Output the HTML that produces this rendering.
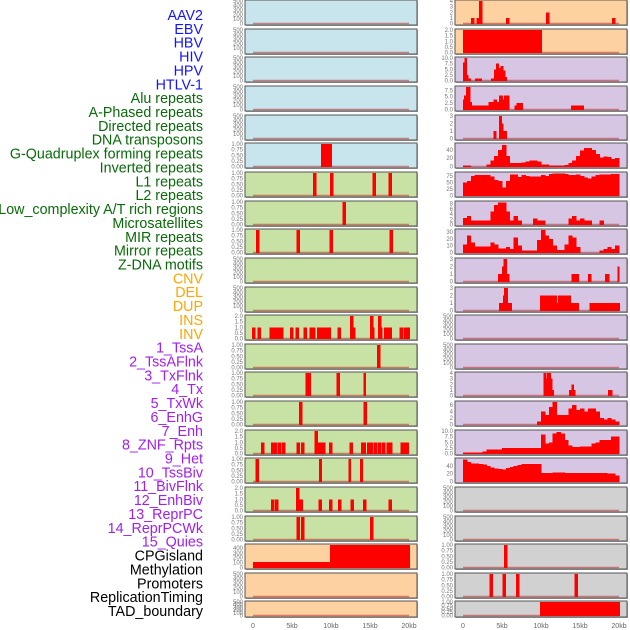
<!DOCTYPE html>
<html><head><meta charset="utf-8"><style>
body{margin:0;background:#fff;}
svg{display:block;font-family:"Liberation Sans",sans-serif;}
.lab{font-size:14.3px;}
.tk{font-size:6px;fill:#777;}
.xt{font-size:7px;fill:#666;}
</style></head><body>
<svg id="chart" width="630" height="630" viewBox="0 0 630 630" xmlns="http://www.w3.org/2000/svg"></svg>
<script>
// ---------- data ----------
const trackLabels = ["AAV2","EBV","HBV","HIV","HPV","HTLV-1","Alu repeats","A-Phased repeats","Directed repeats","DNA transposons","G-Quadruplex forming repeats","Inverted repeats","L1 repeats","L2 repeats","Low_complexity A/T rich regions","Microsatellites","MIR repeats","Mirror repeats","Z-DNA motifs","CNV","DEL","DUP","INS","INV","1_TssA","2_TssAFlnk","3_TxFlnk","4_Tx","5_TxWk","6_EnhG","7_Enh","8_ZNF_Rpts","9_Het","10_TssBiv","11_BivFlnk","12_EnhBiv","13_ReprPC","14_ReprPCWk","15_Quies","CPGisland","Methylation","Promoters","ReplicationTiming","TAD_boundary"];
const labelGroups = [6,13,5,15,5];
const xTickValues = [0,5,10,15,20];
const xTickLabels = ["0","5kb","10kb","15kb","20kb"];

const t500 = ["0","100","200","300","400","500"];
const t1 = ["0.00","0.25","0.50","0.75","1.00"];
const t2 = ["0.0","0.5","1.0","1.5","2.0"];

// left column
const L5Start=[8.7], L5End=[10.1], L5Val=[1];
const L6Pos=[7.9,10.1,15.5,17.6];
const L7Pos=[11.7];
const L8Pos=[0.6,5.8,10.0,17.7];
const L11Pos=[0.09,0.77,2.31,2.52,2.9,3.1,3.3,3.67,4.96,5.64,6.67,7.44,7.74,8.42,8.6,9.02,9.19,9.36,9.53,9.74,11.03,12.65,12.86,15.17,15.3,16.24,16.37,17.0,17.2,17.4,17.6,18.97,19.49,19.87];
const L11Val=[1,1,1,1,1,1,1,1,1,1,1,1,1,1,1,1,1,1,1,1,1,2,1,2,1,2,1,1,1,1,1,1,1,1];
const L12Pos=[16.1];
const L13Start=[6.7,10.7,14.15], L13End=[7.4,11.1,14.45], L13Val=[1,1,1];
const L14Pos=[6.11,14.36];
const L15Pos=[1.24,2.52,2.9,3.42,3.93,5.77,6.37,8.08,8.46,8.89,9.02,9.96,12.6,14.06,14.23,14.83,15.0,15.2,15.73,16.2,16.75,17.3,17.5,17.65,19.1,19.3,19.74];
const L15Val=[1,1,1,1,1,1,1,2,1,1,1,1,1,1,1,1,1,1,1,1,1,1,1,1,1,1,1];
const L16Start=[0.35,8.45,12.25,13.7], L16End=[0.73,8.8,12.5,14.06], L16Val=[1,1,1,1];
const L17Pos=[2.52,3.03,5.72,6.15,8.59,9.96,11.1,12.7,14.3,17.6];
const L17Val=[1,1,2,1,1,1,1,1,1,1];
const L18Pos=[5.77,6.37,15.2];
const L19Start=[0,9.9], L19End=[9.9,20.1], L19Val=[110,460];

// right column
const R0Pos=[1.2,1.92,2.27,5.73,10.86,19.3], R0Val=[1,1,4,1,2,1];
const R1Start=[0], R1End=[10.1], R1Val=[2];
const R2Start=[0,0.17,0.47,0.68,1.54,3.59,3.97,4.23,4.57,4.83,5.17,5.38];
const R2End=[0.17,0.47,0.68,0.98,2.4,3.97,4.23,4.57,4.83,5.17,5.38,5.6];
const R2Val=[8,10,2.5,1,1,1,5,7.5,5.5,6.5,4.5,1.5];
const R3Start=[0,0.1,0.4,0.9,1.07,3.25,3.9,4.32,4.6,5.08,5.25,6.58,6.88,13.85];
const R3End=[0.1,0.4,0.9,1.07,3.25,3.9,4.32,4.6,5.08,5.25,5.9,6.88,7.65,15.43];
const R3Val=[4,5.5,8.8,3,1.5,3,4,3,5.5,4,5.5,1.5,2.5,1.5];
const R4Start=[3.9,4.6,4.96,5.17], R4End=[4.23,4.96,5.17,5.6], R4Val=[1,3,2,1];
const R5Bins=[3,3,0,0,0,0,5,15,25,40,52,25,8,8,8,10,12,14,14,12,5,5,3,2,3,3,4,8,15,25,38,45,44,40,30,22,24,23,18,20];
const R6Bins=[50,55,75,78,78,78,78,72,60,55,30,55,80,80,70,78,75,72,72,72,78,75,82,85,85,85,82,78,78,80,75,68,65,72,78,80,80,80,82,82];
const R7Bins=[2.5,3.3,1.5,1.5,1.5,1.5,1.5,5,7.5,8.5,8.5,5,1.5,3.3,1.5,0,0,0,2.3,1.5,1.5,0,0,0,0,0,0,2.2,3.3,1.5,2.3,1.5,1.5,0,0,1.5,0,0,0,0];
const R8Bins=[12,25,15,9,9,9,9,15,12,6,6,8,5,22,10,3,3,3,3,18,33,25,20,10,4,4,12,25,22,8,0,0,0,0,0,3,5,8,5,10];
const R9Start=[4.5,5.0,5.2,5.6,13.9,16.0,18.2,19.8], R9End=[5.0,5.2,5.6,5.9,14.8,16.4,18.7,20.0], R9Val=[1,2,3,1,1,1,1,2];
const R10Start=[4.6,5.1,5.25,5.7,9.9,12.0,12.2,13.8,16.2], R10End=[5.1,5.25,5.7,6.2,12.0,12.2,13.8,14.8,20.1], R10Val=[1,2,3,1,2,1,2,1,1];
const R13Start=[10.3,10.65,10.8,11.2,11.4,13.6,13.9,14.2,18.6], R13End=[10.65,10.8,11.2,11.4,11.6,13.9,14.2,14.4,19.1], R13Val=[4,3,4,3,1,1,2,1,1];
const R14Bins=[0,0,0,0,0,0,0,0,0,0,0,0,0,0,0,0,0,0,0,1,4,3,5.5,7,3,3,3,5,6,4.5,5,4,5,5,4,2,1.5,2,1.5,1];
const R15Bins=[0.5,0.5,0.5,0.5,0.5,1,1.8,1.8,1.8,1.8,2.5,2.5,2.5,2.5,2.5,2.5,2.5,2.5,2.5,2.5,8.5,4.5,5,9,9.5,9,6,3.5,3,3,3.2,3.2,3.2,4.5,5,6,6,6,7.5,7.5];
const R16Bins=[57,50,47,47,45,44,40,36,34,32,31,35,38,40,42,45,45,45,45,45,22,22,22,23,23,23,22,22,22,22,22,22,22,22,22,22,22,20,20,16];
const R19Pos=[5.43];
const R20Pos=[3.6,5.26,6.97,14.5];
const R21Start=[9.87], R21End=[20.05], R21Val=[1];

// ---------- layout ----------
const NS="http://www.w3.org/2000/svg";
const svg=document.getElementById('chart');
const BG={blue:"#c8e4ec",green:"#c8e1a4",peach:"#fed1a0",lav:"#d6c6e3",gray:"#d1d1d1"};
const colX0=[245,455], colW=172, kbPx=7.8;
const rowTop=i=> i===21?601:Math.round(i*28.65);
const rowH=i=> i===21?16:25;
function xs(col,kb){return colX0[col]+8+kb*kbPx;}
function el(tag,attrs,parent){const e=document.createElementNS(NS,tag);for(const k in attrs)e.setAttribute(k,attrs[k]);(parent||svg).appendChild(e);return e;}

function spikes(pos,val){return {starts:pos.map(p=>p-0.2),ends:pos.map(p=>p+0.2),vals:val||pos.map(()=>1)};}
function bins(b){return {starts:b.map((v,i)=>i*0.5),ends:b.map((v,i)=>i*0.5+0.5),vals:b};}
function segs(s,e,v){return {starts:s,ends:e,vals:v};}

const panels=[
 {c:0,r:0,bg:"blue",ymax:500,ticks:t500},{c:0,r:1,bg:"blue",ymax:500,ticks:t500},{c:0,r:2,bg:"blue",ymax:500,ticks:t500},
 {c:0,r:3,bg:"blue",ymax:500,ticks:t500},{c:0,r:4,bg:"blue",ymax:500,ticks:t500},
 {c:0,r:5,bg:"blue",ymax:1,ticks:t1,d:segs(L5Start,L5End,L5Val)},
 {c:0,r:6,bg:"green",ymax:1,ticks:t1,d:spikes(L6Pos)},
 {c:0,r:7,bg:"green",ymax:1,ticks:t1,d:spikes(L7Pos)},
 {c:0,r:8,bg:"green",ymax:1,ticks:t1,d:spikes(L8Pos)},
 {c:0,r:9,bg:"green",ymax:500,ticks:t500},{c:0,r:10,bg:"green",ymax:500,ticks:t500},
 {c:0,r:11,bg:"green",ymax:2,ticks:t2,d:spikes(L11Pos,L11Val)},
 {c:0,r:12,bg:"green",ymax:1,ticks:t1,d:spikes(L12Pos)},
 {c:0,r:13,bg:"green",ymax:1,ticks:t1,d:segs(L13Start,L13End,L13Val)},
 {c:0,r:14,bg:"green",ymax:1,ticks:t1,d:spikes(L14Pos)},
 {c:0,r:15,bg:"green",ymax:2,ticks:t2,d:spikes(L15Pos,L15Val)},
 {c:0,r:16,bg:"green",ymax:1,ticks:t1,d:segs(L16Start,L16End,L16Val)},
 {c:0,r:17,bg:"green",ymax:2,ticks:t2,d:spikes(L17Pos,L17Val)},
 {c:0,r:18,bg:"green",ymax:1,ticks:t1,d:spikes(L18Pos)},
 {c:0,r:19,bg:"peach",ymax:460,ticks:["0","100","200","300","400"],d:segs(L19Start,L19End,L19Val)},
 {c:0,r:20,bg:"peach",ymax:500,ticks:t500},{c:0,r:21,bg:"peach",ymax:500,ticks:t500},
 {c:1,r:0,bg:"peach",ymax:4,ticks:["0","1","2","3","4"],d:spikes(R0Pos,R0Val)},
 {c:1,r:1,bg:"peach",ymax:2,ticks:t2,d:segs(R1Start,R1End,R1Val)},
 {c:1,r:2,bg:"lav",ymax:10,ticks:["0.0","2.5","5.0","7.5","10.0"],d:segs(R2Start,R2End,R2Val)},
 {c:1,r:3,bg:"lav",ymax:8.8,ticks:["0.0","2.5","5.0","7.5"],d:segs(R3Start,R3End,R3Val)},
 {c:1,r:4,bg:"lav",ymax:3,ticks:["0","1","2","3"],d:segs(R4Start,R4End,R4Val)},
 {c:1,r:5,bg:"lav",ymax:54,ticks:["0","20","40"],d:bins(R5Bins)},
 {c:1,r:6,bg:"lav",ymax:86,ticks:["0","25","50","75"],d:bins(R6Bins)},
 {c:1,r:7,bg:"lav",ymax:8.6,ticks:["0","2","4","6","8"],d:bins(R7Bins)},
 {c:1,r:8,bg:"lav",ymax:33,ticks:["0","10","20","30"],d:bins(R8Bins)},
 {c:1,r:9,bg:"lav",ymax:3,ticks:["0","1","2","3"],d:segs(R9Start,R9End,R9Val)},
 {c:1,r:10,bg:"lav",ymax:3,ticks:["0","1","2","3"],d:segs(R10Start,R10End,R10Val)},
 {c:1,r:11,bg:"lav",ymax:500,ticks:t500},{c:1,r:12,bg:"lav",ymax:500,ticks:t500},
 {c:1,r:13,bg:"lav",ymax:4,ticks:["0","1","2","3","4"],d:segs(R13Start,R13End,R13Val)},
 {c:1,r:14,bg:"lav",ymax:7,ticks:["0","2","4","6"],d:bins(R14Bins)},
 {c:1,r:15,bg:"lav",ymax:10,ticks:["0.0","2.5","5.0","7.5","10.0"],d:bins(R15Bins)},
 {c:1,r:16,bg:"lav",ymax:58,ticks:["0","20","40"],d:bins(R16Bins)},
 {c:1,r:17,bg:"gray",ymax:500,ticks:t500},{c:1,r:18,bg:"gray",ymax:500,ticks:t500},
 {c:1,r:19,bg:"gray",ymax:1,ticks:t1,d:spikes(R19Pos)},
 {c:1,r:20,bg:"gray",ymax:1,ticks:t1,d:spikes(R20Pos)},
 {c:1,r:21,bg:"gray",ymax:1,ticks:t1,d:segs(R21Start,R21End,R21Val)}
];

panels.forEach(p=>{
  const top=rowTop(p.r), h=rowH(p.r), x0=colX0[p.c];
  const g=el('g',{});
  
  
  el('rect',{x:x0+1,y:top+1,width:colW,height:h,fill:"#aaa"},g);
  const bg=el('rect',{x:x0,y:top,width:colW,height:h,fill:BG[p.bg],stroke:"#555","stroke-width":1},g);
  
  
  const base=top+h-1.5, span=h-2.5;
  const ys=v=>base-v/p.ymax*span;
  p.ticks.forEach((t)=>{
    const v=parseFloat(t);
    const tx=el('text',{x:x0-2,y:ys(v)+2,"text-anchor":"end",class:"tk"},g);
    tx.textContent=t;
    
    
  });
  const bl=el('line',{x1:xs(p.c,0),x2:xs(p.c,20),y1:base,y2:base,stroke:"rgba(190,30,30,0.5)","stroke-width":1.5},g);
  
  
  if(p.d){
    const d=p.d;
    d.vals.forEach((v,i)=>{
      if(v<=0) return;
      const xa=xs(p.c,d.starts[i]), xb=xs(p.c,d.ends[i]);
      const b=el('rect',{x:xa,y:ys(v),width:Math.max(xb-xa,1.5)+0.4,height:base-ys(v)+0.5,fill:"#ff0000","shape-rendering":"crispEdges"},g);
      
      
    });
  }
});

[0,1].forEach(c=>{
  xTickValues.forEach((v,i)=>{
    const t=el('text',{x:xs(c,v),y:628,"text-anchor":"middle",class:"xt"});
    t.textContent=xTickLabels[i];
    
    
  });
});

const groupColors=["#1414ff","#0a6a0a","#ffa500","#a020f0","#000000"];
let gi=0, cnt=0;
trackLabels.forEach((name,i)=>{
  if(cnt>=labelGroups[gi]){gi++;cnt=0;}
  cnt++;
  const t=el('text',{x:203,y:15+i*13.86+5,"text-anchor":"end",class:"lab",fill:groupColors[gi]});
  t.textContent=name;
  
  
});
</script>
</body></html>
